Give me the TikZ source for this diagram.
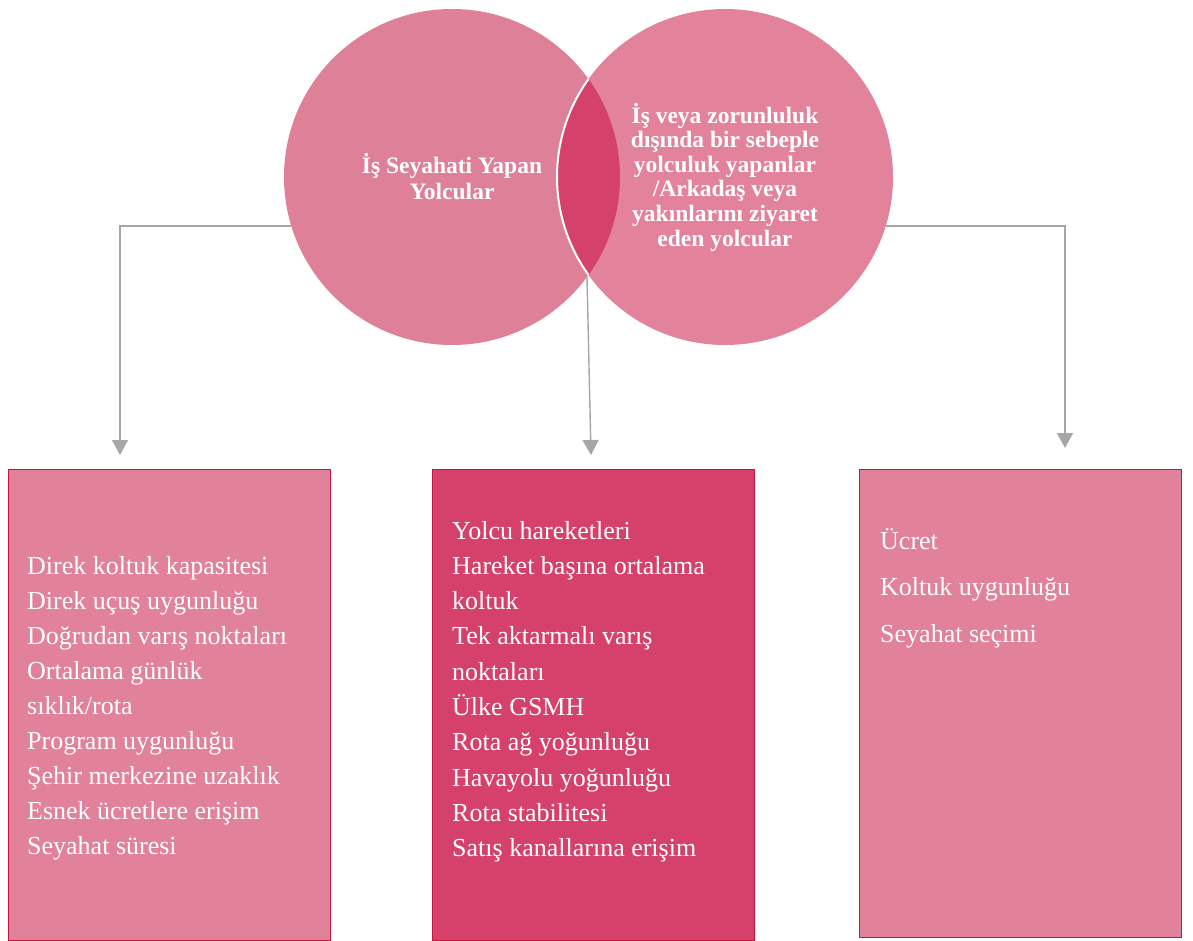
\documentclass[tikz,border=0pt]{standalone}
\usepackage{fontspec}
\setmainfont{Liberation Serif}
\usetikzlibrary{arrows.meta}
\definecolor{leftpink}{HTML}{DF8099}
\definecolor{rightpink}{HTML}{E3829B}
\definecolor{lenspink}{HTML}{D4416B}
\definecolor{boxpink}{HTML}{E2819A}
\definecolor{midpink}{HTML}{D6416B}
\definecolor{boxborder}{HTML}{C4143F}
\definecolor{arrowgray}{HTML}{A6A6A6}
\tikzset{
  venn/.style={circle, minimum size=336pt, inner sep=0pt, text=white, align=center,
    font=\bfseries\fontsize{23.5}{26}\selectfont},
  listbox/.style={rectangle, draw=boxborder, line width=1pt, anchor=north west, inner sep=0pt},
  listtext/.style={anchor=base west, inner sep=0pt, text=white, align=left},
  conn/.style={draw=arrowgray, line width=1.4pt, -{Triangle[width=16pt,length=15pt]}}
}
\begin{document}
\begin{tikzpicture}[x=1pt,y=-1pt]
\useasboundingbox (0,0) rectangle (1193,941);
% circles
\node[venn, fill=leftpink] (L) at (452,177) {İş Seyahati Yapan\\Yolcular};
\node[venn, fill=rightpink, font=\bfseries\fontsize{23.5}{24.6}\selectfont] (R) at (725,177)
  {İş veya zorunluluk\\dışında bir sebeple\\yolculuk yapanlar\\/Arkadaş veya\\yakınlarını ziyaret\\eden yolcular};
% lens
\begin{scope}
  \clip (452,177) circle (168);
  \fill[lenspink] (725,177) circle (168);
  \draw[white, line width=2pt] (725,177) circle (168);
\end{scope}
% boxes
\node[listbox, fill=boxpink, minimum width=322pt, minimum height=471pt] (B1) at (8,469) {};
\node[listbox, fill=midpink, minimum width=322pt, minimum height=471pt] (B2) at (432,469) {};
\node[listbox, fill=boxpink, minimum width=322pt, minimum height=468pt] (B3) at (859,469) {};
% texts (anchor = baseline of the last line)
\node[listtext, font=\fontsize{26}{35}\selectfont] (T1) at (27,854)
  {Direk koltuk kapasitesi\\Direk uçuş uygunluğu\\Doğrudan varış noktaları\\Ortalama günlük\\sıklık/rota\\Program uygunluğu\\Şehir merkezine uzaklık\\Esnek ücretlere erişim\\Seyahat süresi};
\node[listtext, font=\fontsize{26}{35.3}\selectfont] (T2) at (452,856.7)
  {Yolcu hareketleri\\Hareket başına ortalama\\koltuk\\Tek aktarmalı varış\\noktaları\\Ülke GSMH\\Rota ağ yoğunluğu\\Havayolu yoğunluğu\\Rota stabilitesi\\Satış kanallarına erişim};
\node[listtext, font=\fontsize{26}{46.5}\selectfont] (T3) at (880,642)
  {Ücret\\Koltuk uygunluğu\\Seyahat seçimi};
% connectors
\coordinate (t1) at (120,455);
\coordinate (lensbot) at (587,277);
\coordinate (t2) at (591,455);
\coordinate (t3) at (1065,448);
\draw[conn] (L.197) -| (t1);
\draw[conn] (lensbot) -- (t2);
\draw[conn] (R.-17) -| (t3);
\end{tikzpicture}
\end{document}
